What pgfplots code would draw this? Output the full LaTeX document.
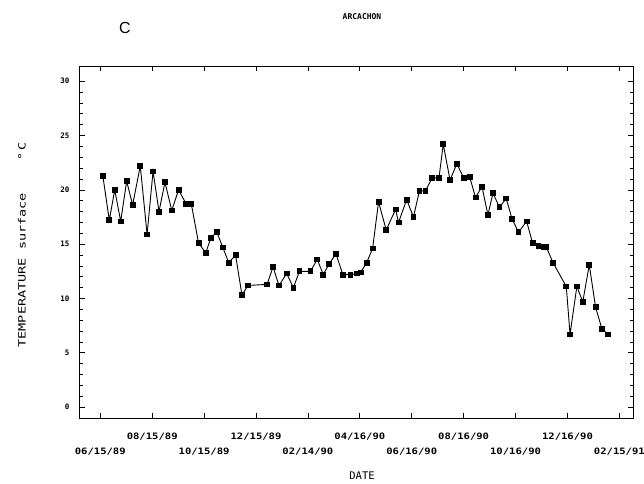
\documentclass[border=0pt]{standalone}
\usepackage{fontspec}
\usepackage{pgfplots}
\pgfplotsset{compat=1.18}
\newfontfamily\pf{DejaVu Sans Mono}
\newfontfamily\pfx[FakeStretch=1.2]{DejaVu Sans Mono}
\newfontfamily\pfy[FakeStretch=1.35]{DejaVu Sans Mono}
\newfontfamily\cfont{Liberation Sans}
\begin{document}
\begin{tikzpicture}[x=1pt,y=1pt]
\useasboundingbox (-79,-65) rectangle (565,418);
\begin{axis}[
  at={(0,0)}, anchor=south west,
  scale only axis, width=554pt, height=352pt,
  xmin=-25, xmax=626, ymin=-1, ymax=31.4,
  axis line style={line width=0.8pt},
  tick align=inside,
  major tick length=5.5pt, minor tick length=3.5pt,
  every tick/.style={black, line width=0.7pt},
  xtick={61,183,305,427,549},
  xticklabels={08/15/89,12/15/89,04/16/90,08/16/90,12/16/90},
  extra x ticks={0,122,244,366,488,610},
  extra x tick labels={06/15/89,10/15/89,02/14/90,06/16/90,10/16/90,02/15/91},
  xticklabel style={font=\pfx\bfseries\fontsize{8.8}{9}\selectfont, yshift=-11pt},
  extra x tick style={xticklabel style={yshift=-15pt}},
  ytick={0,5,10,15,20,25,30},
  yticklabels={0,5,10,15,20,25,30},
  minor y tick num=4,
  yticklabel style={font=\pf\bfseries\fontsize{7.5}{8}\selectfont, xshift=-6pt},
  clip=false,
]
\addplot[black, line width=0.9pt, mark=square*, mark size=2.4pt, mark options={solid, fill=black}] coordinates {
(3,21.3) (10.6,17.2) (17,20.0) (24,17.1) (31,20.8) (38,18.6) (47,22.2) (55,15.9)
(62,21.7) (69,18.0) (76,20.7) (84,18.1) (92,20.0) (101,18.7) (107,18.7) (115.5,15.1)
(124,14.2) (130,15.6) (137,16.1) (144,14.7) (151,13.3) (159,14.0) (166.5,10.3) (173.5,11.2)
(196,11.3) (203,12.9) (210,11.2) (219,12.3) (227,11.0) (234,12.5) (247,12.5) (255,13.6)
(262,12.2) (269,13.2) (277,14.1) (285,12.2) (294,12.2) (301.6,12.3) (306,12.4) (313,13.3)
(320,14.6) (327,18.9) (336,16.3) (347,18.2) (350.5,17.0) (360,19.1) (368,17.5) (375,19.9)
(382,19.9) (390,21.1) (398,21.1) (403,24.2) (411,20.9) (419,22.4) (427,21.1) (434,21.2)
(441,19.3) (448.5,20.3) (455.5,17.7) (461.5,19.7) (469,18.4) (477,19.2) (484,17.3) (491.5,16.1)
(501,17.1) (508,15.1) (515,14.8) (521,14.75) (524,14.75) (532,13.3) (547.6,11.1) (552,6.7)
(560,11.1) (567,9.7) (574.6,13.1) (582,9.2) (589.5,7.2) (597,6.7)
};
\end{axis}
\node[font=\pf\bfseries\fontsize{8}{9}\selectfont] at (283,401) {ARCACHON};
\node[font=\cfont\fontsize{16}{18}\selectfont] at (46,390) {C};
\node[font=\pfy\fontsize{10}{11}\selectfont, rotate=90] at (-57,173) {TEMPERATURE surface\ \ \ \ °\,C};
\node[font=\pf\fontsize{10.5}{11}\selectfont] at (283,-58) {DATE};
\end{tikzpicture}
\end{document}
